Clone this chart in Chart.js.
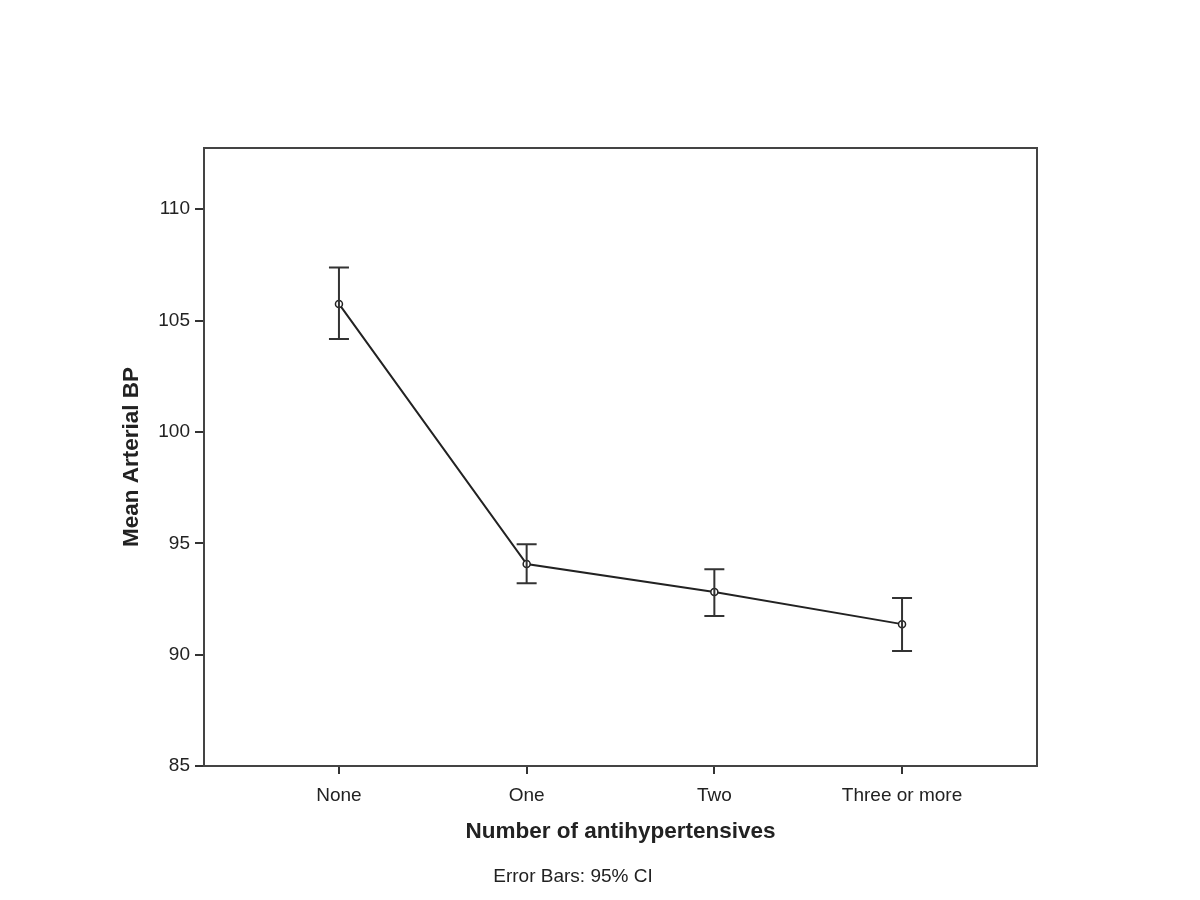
<!DOCTYPE html>
<html>
<head>
<meta charset="utf-8">
<script src="https://cdn.jsdelivr.net/npm/chart.js@4.4.0/dist/chart.umd.min.js"></script>
<style>
  body { margin: 0; background: #fff; }
  canvas { display: block; }
</style>
</head>
<body>
<canvas id="chart" width="1200" height="900"></canvas>
<script>
// data
const categories = ['None', 'One', 'Two', 'Three or more'];
const means = [105.75, 94.07, 92.81, 91.37];
const upperCI = [107.38, 94.96, 93.84, 92.54];
const lowerCI = [104.17, 93.21, 91.73, 90.16];
const yTicks = [85, 90, 95, 100, 105, 110];

const fontFamily = '"Liberation Sans", Arial, sans-serif';
const ink = '#222';

const points = categories.map((c, i) => ({ x: i + 1, y: means[i] }));

// error bars + frame + footnote
const extras = {
    id: 'extras',
    afterDatasetsDraw(chart) {
        const ctx = chart.ctx;
        const xs = chart.scales.x;
        const ys = chart.scales.y;
        const area = chart.chartArea;

        ctx.save();
        ctx.strokeStyle = '#333';
        ctx.lineWidth = 2;
        categories.forEach((c, i) => {
            const x = xs.getPixelForValue(i + 1);
            const yt = ys.getPixelForValue(upperCI[i]);
            const yb = ys.getPixelForValue(lowerCI[i]);
            ctx.beginPath();
            ctx.moveTo(x, yt);
            ctx.lineTo(x, yb);
            ctx.moveTo(x - 10, yt);
            ctx.lineTo(x + 10, yt);
            ctx.moveTo(x - 10, yb);
            ctx.lineTo(x + 10, yb);
            ctx.stroke();
        });

        // box around plot
        ctx.strokeStyle = '#444';
        ctx.lineWidth = 2;
        ctx.strokeRect(area.left, area.top, area.right - area.left, area.bottom - area.top);

        ctx.fillStyle = ink;
        ctx.font = '19px ' + fontFamily;
        ctx.textAlign = 'center';
        ctx.textBaseline = 'middle';
        ctx.fillText('Error Bars: 95% CI', 573, 877);
        ctx.restore();
    }
};

const ctx = document.getElementById('chart').getContext('2d');
const chart = new Chart(ctx, {
    type: 'line',
    data: {
        datasets: [{
            label: 'Mean Arterial BP',
            data: points,
            borderColor: ink,
            borderWidth: 2,
            tension: 0,
            pointRadius: 3.5,
            pointBackgroundColor: '#fff',
            pointBorderColor: ink,
            pointBorderWidth: 1.5
        }]
    },
    options: {
        responsive: false,
        animation: false,
        layout: { padding: { left: 0, top: 148, right: 163, bottom: 0 } },
        plugins: {
            legend: { display: false },
            tooltip: { enabled: false }
        },
        scales: {
            x: {
                type: 'linear',
                min: 0.281,
                max: 4.719,
                afterFit: (scale) => { scale.height = 134; },
                afterBuildTicks: (scale) => { scale.ticks = categories.map((c, i) => ({ value: i + 1 })); },
                ticks: {
                    color: ink,
                    font: { family: fontFamily, size: 19 },
                    padding: 10,
                    maxRotation: 0,
                    callback: (v) => categories[v - 1]
                },
                grid: { drawOnChartArea: false, drawTicks: true, tickLength: 8, color: '#333', lineWidth: 2 },
                border: { display: true, color: '#444', width: 2 },
                title: {
                    display: true,
                    text: 'Number of antihypertensives',
                    color: ink,
                    font: { family: fontFamily, size: 22.5, weight: 'bold' },
                    padding: { top: 0, bottom: 55 }
                }
            },
            y: {
                min: 85,
                max: 112.75,
                afterFit: (scale) => { scale.width = 204; },
                afterBuildTicks: (scale) => { scale.ticks = yTicks.map(v => ({ value: v })); },
                ticks: {
                    color: ink,
                    font: { family: fontFamily, size: 19 },
                    padding: 5
                },
                grid: { drawOnChartArea: false, drawTicks: true, tickLength: 9, color: '#333', lineWidth: 2 },
                border: { display: true, color: '#444', width: 2 },
                title: {
                    display: true,
                    text: 'Mean Arterial BP',
                    color: ink,
                    font: { family: fontFamily, size: 22.5, weight: 'bold' },
                    padding: { top: 118, bottom: 0 }
                }
            }
        }
    },
    plugins: [extras]
});
</script>
</body>
</html>
